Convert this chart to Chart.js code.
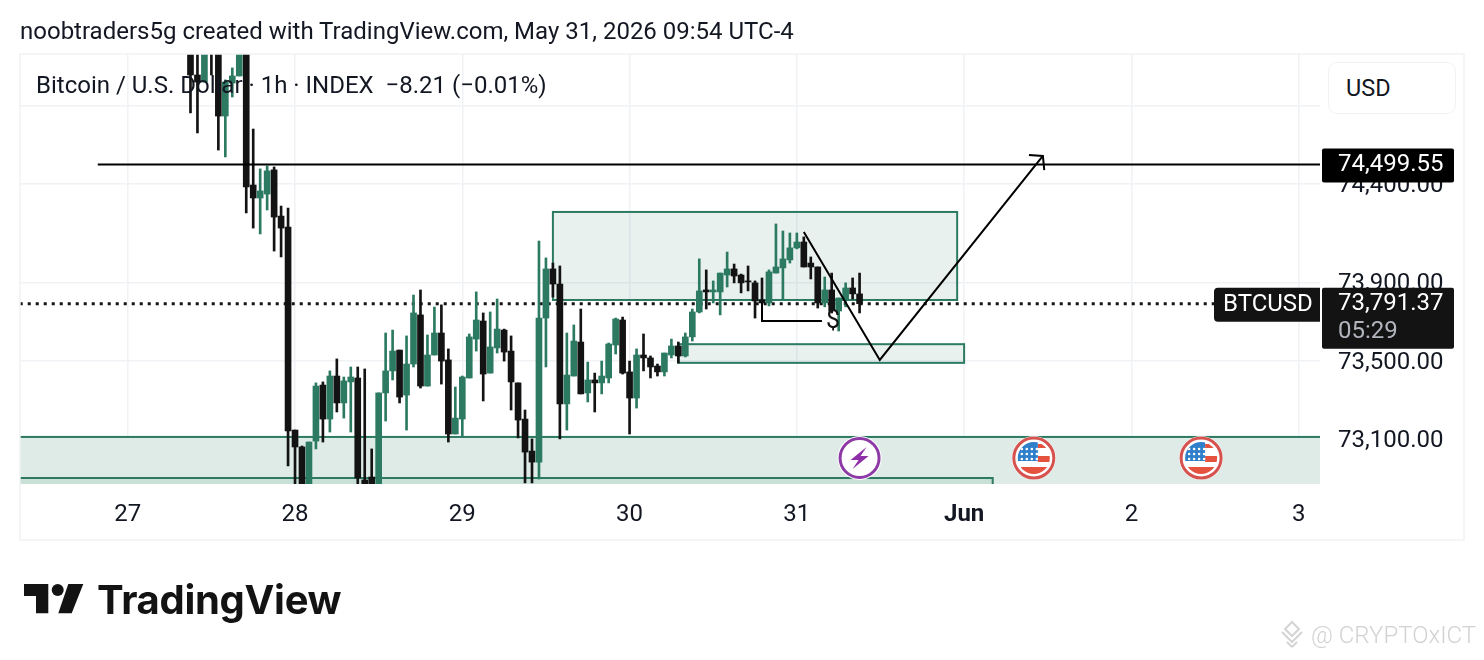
<!DOCTYPE html>
<html><head><meta charset="utf-8">
<script src="https://cdn.jsdelivr.net/npm/chart.js@4/dist/chart.umd.min.js"></script>
<style>
html,body{margin:0;padding:0;background:#fff;width:1484px;height:660px;overflow:hidden;font-family:Roboto,sans-serif;color:#131722}
canvas{position:absolute;left:0;top:0}
.t{position:absolute;white-space:pre;line-height:1}
#usd{position:absolute;left:1328px;top:62px;width:128px;height:52px;box-sizing:border-box;background:#fff;border:1px solid #f0f2f5;border-radius:9px;font-size:23.5px;line-height:51px;padding-left:17px}
</style></head><body>
<canvas id="c" width="1484" height="660"></canvas>
<div class="t" id="head" style="left:20px;top:19px;font-size:24px">noobtraders5g created with TradingView.com, May 31, 2026 09:54 UTC-4</div>
<div class="t" id="leg" style="left:36px;top:73px;font-size:24px">Bitcoin / U.S. Dollar · 1h · INDEX  −8.21 (−0.01%)</div>
<div id="usd">USD</div>
<svg style="position:absolute;left:0;top:560px" width="100" height="70" viewBox="0 560 100 70"><path fill="#131313" d="M24 584H48.3V613.3H36V596H24Z"/><circle fill="#131313" cx="57.7" cy="590" r="6"/><path fill="#131313" d="M68.3 584H83.3L71.7 613.3H58.3Z"/></svg>
<div class="t" id="logo" style="left:97px;top:580px;font-family:Inter,sans-serif;font-weight:700;font-size:40px;color:#131313;letter-spacing:-.3px">TradingView</div>
<svg style="position:absolute;left:1278px;top:620px" width="30" height="30" viewBox="0 0 30 30" fill="none" stroke="#d4d4d4" stroke-width="2"><path d="M14 2L21 9L14 16L7 9Z"/><path d="M4 12L8 16L14 22L20 16L24 12"/><path d="M14 27L9 22M14 27L19 22"/></svg>
<div class="t" id="wm" style="left:1311px;top:623px;font-size:24px;color:#d2d2d2;font-weight:300">@ CRYPTOxICT</div>
<script>
const hours=[-15,-14,-13,-12,-11,-10,-9,-8,-7,-6,-5,-4,-3,-2,-1,0,1,2,3,4,5,6,7,8,9,10,11,12,13,14,15,16,17,18,19,20,21,22,23,24,25,26,27,28,29,30,31,32,33,34,35,36,37,38,39,40,41,42,43,44,45,46,47,48,49,50,51,52,53,54,55,56,57,58,59,60,61,62,63,64,65,66,67,68,69,70,71,72,73,74,75,76,77,78,79,80,81];
const opens=[75150,74955,74919,75200,75180,74746,74914,74950,75140,74395,74329,74349,74472,74237,74181,73148,73062,72850,73092,73377,73204,73423,73286,73393,73413,72894,72909,72850,73337,73449,73555,73326,73484,73734,73372,73530,73642,73505,73128,73204,73413,73611,73703,73438,73566,73657,73550,73388,73204,73041,72985,73718,73968,73891,73281,73423,73596,73337,73403,73388,73413,73581,73708,73444,73311,73530,73515,73474,73444,73530,73576,73525,73622,73749,73861,73851,73851,73937,73968,73937,73907,73897,73810,73795,73947,73973,74014,74075,74105,73998,73978,73795,73861,73754,73815,73871,73841];
const highs=[75180,75100,75200,75230,75200,74930,74991,75200,75160,74680,74477,74492,74487,74288,74278,73148,73067,73087,73388,73393,73449,73510,73418,73469,73469,73459,73052,73337,73642,73657,73555,73627,73835,73861,73632,73774,73785,73561,73367,73423,73637,73851,73744,73749,73815,73662,73627,73388,73250,73103,74110,74024,73998,73983,73642,73683,73764,73494,73438,73499,73591,73718,73723,73499,73561,73637,73525,73484,73540,73611,73596,73642,73764,74019,73963,73907,73947,74054,73993,73942,73983,73907,73922,73963,74197,74161,74151,74151,74131,74029,73978,73927,73947,73820,73897,73922,73947];
const lows=[74762,74660,74919,74955,74573,74538,74843,74950,74253,74176,74146,74268,74059,74029,72965,72860,72800,72800,73052,73087,73138,73240,73209,73138,72850,72800,72800,72800,73194,73403,73286,73148,73469,73362,73372,73530,73382,73087,73128,73113,73413,73550,73296,73438,73540,73499,73250,73108,72879,72879,72899,73469,73825,73103,73148,73423,73332,73291,73240,73332,73388,73535,73433,73128,73260,73449,73413,73423,73423,73515,73489,73520,73601,73744,73764,73795,73734,73876,73897,73846,73856,73718,73795,73780,73947,73810,73998,74070,73978,73917,73769,73775,73744,73652,73775,73815,73744];
const closes=[74955,74919,75120,75100,74746,74919,74950,75150,74385,74329,74365,74467,74232,74176,73143,73062,72850,73087,73372,73204,73423,73286,73398,73418,72904,72860,72850,73337,73449,73550,73316,73484,73744,73372,73530,73642,73499,73128,73209,73418,73622,73708,73433,73571,73662,73545,73393,73199,73036,72985,73718,73968,73891,73281,73428,73601,73332,73403,73388,73423,73586,73713,73438,73311,73530,73515,73469,73444,73540,73576,73525,73622,73749,73856,73851,73861,73947,73968,73932,73897,73902,73805,73795,73953,73978,74019,74075,74105,73978,73978,73795,73861,73754,73820,73871,73841,73791.37];

const priceTicks=[74800,74400,73900,73500,73100];
const priceTickLabels=["","74,400.00","73,900.00","73,500.00","73,100.00"];
const dayTicks=[-24,0,24,48,72,96,120,144];
const dayLabels=["27","28","29","30","31","Jun","2","3"];
const levelPrice=74499.55, lastPrice=73791.37;
const levelLine=[[-28.3,levelPrice],[147.1,levelPrice]];
const lastLine=[[-39.5,lastPrice],[132.9,lastPrice]];
const pathLine=[[73,74156],[83.9,73505],[107.3,74543]];
const arrowHead=[[105.3,74548],[107.3,74543],[107.5,74471]];
const cornerLine=[[67,73795],[67,73703],[75.6,73703]];
const dollarMark=[77.2,73703];
// zones: hourStart, hourEnd, priceLow, priceHigh
const zoneA=[37.0,95.0,73810,74258];
const zoneB=[55.0,96.0,73490,73585];
const zoneC=[-45,155,72800,73113];
const zoneD=[-45,100.1,72800,72904];
const lightningHour=[81], flagHours=[106,130];

const UP='#2c7a62', DN='#131313', GRID='#f0f2f5';
const pairs=a=>a.map(p=>({x:p[0],y:p[1]}));
const lineDS=(d,w,extra)=>Object.assign({type:'line',data:pairs(d),borderColor:'#000',borderWidth:w,pointRadius:0,fill:false,tension:0,order:0},extra||{});
const col=hours.map((h,i)=>closes[i]>=opens[i]?UP:DN);

const overlay={id:'overlay',
 beforeDatasetsDraw(ch){
  const {ctx,chartArea:a,scales:{x,y}}=ch;
  ctx.save();ctx.beginPath();ctx.rect(a.left,a.top,a.width,a.height);ctx.clip();
  const zone=(z,fill)=>{
    const l=x.getPixelForValue(z[0]),r=x.getPixelForValue(z[1]),t=y.getPixelForValue(z[3]),b=y.getPixelForValue(z[2]);
    ctx.fillStyle=fill;ctx.fillRect(l,t,r-l,b-t);
    ctx.strokeStyle=UP;ctx.lineWidth=2;ctx.strokeRect(l,t,r-l,b-t);
  };
  zone(zoneC,'#deebe6');zone(zoneD,'#c9e0d7');zone(zoneA,'rgba(44,122,98,.1)');zone(zoneB,'rgba(44,122,98,.1)');
  ctx.restore();
 },
 afterDraw(ch){
  const {ctx,chartArea:a,scales:{x,y}}=ch;
  ctx.save();
  ctx.strokeStyle=GRID;ctx.lineWidth=1.5;ctx.strokeRect(20,54,1444,486);
  const tag=(l,t,w,h,c,r)=>{ctx.fillStyle=c;ctx.beginPath();ctx.roundRect(l,t,w,h,r);ctx.fill();};
  ctx.textBaseline='middle';
  const ly=y.getPixelForValue(levelPrice), py=y.getPixelForValue(lastPrice);
  tag(1322,ly-16,132,34,'#000',2);
  ctx.font='24px Roboto';ctx.fillStyle='#fff';ctx.textAlign='left';ctx.fillText('74,499.55',1338,ly+1);
  tag(1322,py-16,132,61,'#131313',2);
  ctx.fillStyle='#fff';ctx.fillText('73,791.37',1338,py);
  ctx.fillStyle='#b2b5be';ctx.fillText('05:29',1338,py+28);
  tag(1214,py-16,106,34,'#131313',[4,0,0,4]);
  ctx.fillStyle='#fff';ctx.font='24px Roboto';ctx.fillText('BTCUSD',1223,py+1);
  ctx.fillStyle='#131313';ctx.font='25px Roboto';ctx.textAlign='center';
  ctx.fillText('$',x.getPixelForValue(dollarMark[0]),y.getPixelForValue(dollarMark[1])+1);
  ctx.restore();
  // event icons
  const ey=458;
  lightningHour.forEach(h=>{const cx=x.getPixelForValue(h);
    ctx.save();ctx.fillStyle='#fff';ctx.beginPath();ctx.arc(cx,ey,22,0,7);ctx.fill();
    ctx.strokeStyle='#8e3aa6';ctx.lineWidth=3;ctx.beginPath();ctx.arc(cx,ey,19.5,0,7);ctx.stroke();
    ctx.fillStyle='#8e2fa8';ctx.beginPath();
    [[7,-11],[-9,2],[-1,2],[-7,11],[9,-2],[1,-2]].forEach((p,i)=>i?ctx.lineTo(cx+p[0],ey+p[1]):ctx.moveTo(cx+p[0],ey+p[1]));
    ctx.closePath();ctx.fill();ctx.restore();});
  flagHours.forEach(h=>{const cx=x.getPixelForValue(h);
    ctx.save();ctx.fillStyle='#fff';ctx.beginPath();ctx.arc(cx,ey,22,0,7);ctx.fill();
    ctx.strokeStyle='#d6524f';ctx.lineWidth=3;ctx.beginPath();ctx.arc(cx,ey,20,0,7);ctx.stroke();
    ctx.beginPath();ctx.arc(cx,ey,16,0,7);ctx.clip();
    ctx.fillStyle='#fff';ctx.fillRect(cx-17,ey-17,34,34);
    ctx.fillStyle='#e5533f';ctx.fillRect(cx+4,ey-2,13,6);ctx.fillRect(cx-17,ey+9,34,8);ctx.fillRect(cx+4,ey-14,13,4);
    ctx.fillStyle='#2f7fcb';ctx.fillRect(cx-17,ey-17,21,20);
    ctx.fillStyle='#fff';
    for(let r=0;r<3;r++)for(let c=0;c<4;c++){ctx.beginPath();ctx.arc(cx-12+c*5,ey-9+r*5,1.3,0,7);ctx.fill();}
    ctx.restore();});
 }};

new Chart(document.getElementById('c'),{
 type:'bar',
 data:{datasets:[
  lineDS(lastLine,3,{borderColor:'#131313',borderDash:[3,5],order:4}),
  lineDS(levelLine,2),
  lineDS(pathLine,2),
  lineDS(arrowHead,2),
  lineDS(cornerLine,2),
  {data:hours.map((h,i)=>({x:h,y:[opens[i],closes[i]]})),backgroundColor:col,barThickness:6,grouped:false,order:2,borderSkipped:false,borderWidth:0},
  {data:hours.map((h,i)=>({x:h,y:[lows[i],highs[i]]})),backgroundColor:col,barThickness:2,grouped:false,order:3,borderSkipped:false,borderWidth:0}
 ]},
 options:{responsive:false,animation:false,devicePixelRatio:1,
  layout:{autoPadding:false,padding:{left:20,right:20,top:54,bottom:120}},
  plugins:{legend:{display:false},tooltip:{enabled:false}},
  scales:{
   x:{type:'linear',min:-39.46,max:147.06,offset:false,
    grid:{color:GRID,lineWidth:1.5,drawTicks:false,offset:false},border:{display:false},
    afterBuildTicks:s=>{s.ticks=dayTicks.map(v=>({value:v}));},
    afterFit:s=>{s.height=56;},
    ticks:{autoSkip:false,maxRotation:0,padding:17,color:'#131722',
     font:c=>({family:'Roboto',size:24,weight:c.tick&&c.tick.value===96?'bold':'normal'}),
     callback:v=>dayLabels[dayTicks.indexOf(v)]}},
   y:{type:'linear',position:'right',min:72873.5,max:75061.8,
    grid:{color:GRID,lineWidth:1.5,drawTicks:false},border:{display:false},
    afterBuildTicks:s=>{s.ticks=priceTicks.map(v=>({value:v}));},
    afterFit:s=>{s.width=144;},
    ticks:{autoSkip:false,padding:18,labelOffset:2,color:'#131722',font:{family:'Roboto',size:24},
     callback:v=>priceTickLabels[priceTicks.indexOf(v)]}}
  }},
 plugins:[overlay]
});
</script>
</body></html>
